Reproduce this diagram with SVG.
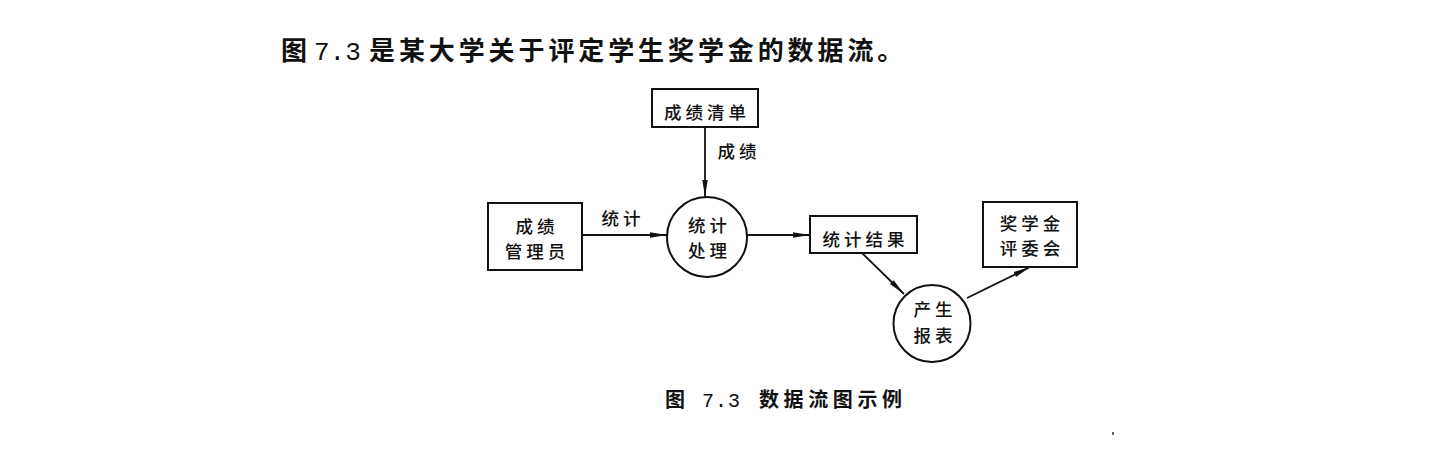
<svg xmlns="http://www.w3.org/2000/svg" width="1436" height="454" viewBox="0 0 1436 454">
<style>
.cjk{font-family:"Noto Sans CJK SC","Noto Sans",sans-serif;fill:#111;}
.lbl{font-size:17.5px;letter-spacing:4px;text-anchor:middle;font-weight:500;}
.box{fill:#fff;stroke:#111;stroke-width:2;}
.proc{fill:#fff;stroke:#111;stroke-width:2;}
.flow{fill:none;stroke:#111;stroke-width:1.8;marker-end:url(#arr);}
.mono{font-family:"Liberation Mono",monospace;fill:#111;}
</style>
<defs>
<marker id="arr" markerUnits="userSpaceOnUse" markerWidth="18" markerHeight="8" refX="17" refY="3.5" orient="auto">
<path d="M0,0.8 L17,3.5 L0,6.2 z" fill="#111"/>
</marker>
</defs>
<rect width="1436" height="454" fill="#fff"/>
<g id="title">
<text class="cjk" x="281" y="59.5" font-size="26" font-weight="bold">图</text>
<text class="mono" x="314" y="59.5" font-size="26">7.3</text>
<text class="cjk" x="369" y="59.5" font-size="26" font-weight="bold" letter-spacing="3.9">是某大学关于评定学生奖学金的数据流。</text>
</g>
<g id="connectors">
<line class="flow" x1="705" y1="127" x2="705" y2="197"/>
<line class="flow" x1="582" y1="235" x2="667" y2="235"/>
<line class="flow" x1="747" y1="235" x2="810" y2="235"/>
<line class="flow" x1="862" y1="253" x2="904" y2="294"/>
<line class="flow" x1="967" y1="298" x2="1030" y2="267"/>
<text class="cjk lbl" x="739" y="158">成绩</text>
<text class="cjk lbl" x="623" y="225">统计</text>
</g>
<g id="node-chengjiqingdan">
<rect class="box" x="652" y="89" width="106" height="38"/>
<text class="cjk lbl" x="707" y="119">成绩清单</text>
</g>
<g id="node-chengjiguanliyuan">
<rect class="box" x="488" y="203" width="94" height="67"/>
<text class="cjk lbl" x="537" y="232.7">成绩</text>
<text class="cjk lbl" x="537" y="258.2">管理员</text>
</g>
<g id="node-tongjichuli">
<circle class="proc" cx="707" cy="237" r="40"/>
<text class="cjk lbl" x="709.5" y="231.7">统计</text>
<text class="cjk lbl" x="709.5" y="257.2">处理</text>
</g>
<g id="node-tongjijieguo">
<rect class="box" x="810" y="216" width="107" height="37"/>
<text class="cjk lbl" x="865.5" y="245.5">统计结果</text>
</g>
<g id="node-chanshengbaobiao">
<circle class="proc" cx="932" cy="323.5" r="38.5"/>
<text class="cjk lbl" x="935" y="315.7">产生</text>
<text class="cjk lbl" x="935" y="341.7">报表</text>
</g>
<g id="node-jiangxuejin">
<rect class="box" x="983" y="202" width="94" height="65"/>
<text class="cjk lbl" x="1032" y="229.7">奖学金</text>
<text class="cjk lbl" x="1032" y="255.2">评委会</text>
</g>
<g id="caption">
<text class="cjk" x="665" y="406.5" font-size="20" font-weight="bold">图</text>
<text class="mono" x="702" y="406.5" font-size="20" letter-spacing="1">7.3</text>
<text class="cjk" x="759" y="406.5" font-size="20" font-weight="bold" letter-spacing="4.6">数据流图示例</text>
</g>
<rect x="1112" y="432" width="2" height="3" fill="#666"/>
</svg>
